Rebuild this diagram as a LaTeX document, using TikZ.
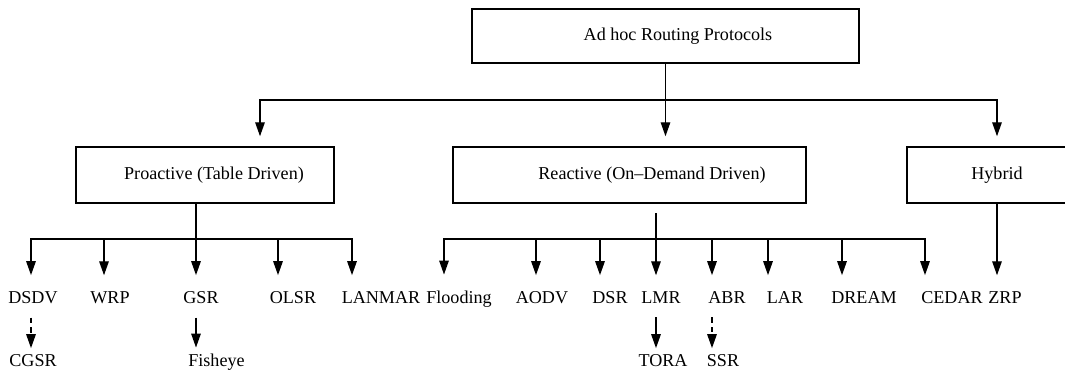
\documentclass[tikz,border=0pt]{standalone}
\usepackage{fontspec}
\setmainfont{Liberation Serif}
\usetikzlibrary{arrows.meta}

\begin{document}
\begin{tikzpicture}[font=\fontsize{10.3}{12}\selectfont,>={Triangle[length=2.8mm,width=1.9mm]}]
    \tikzset{
      box/.style={draw,line width=0.8pt,minimum height=1.12cm,inner sep=2pt},
      leaf/.style={anchor=base,inner sep=0pt},
      ln/.style={line width=0.8pt,line cap=rect},
      ar/.style={->,line width=0.8pt},
      dsh/.style={ar,dash pattern=on 3pt off 2.5pt}}
    \useasboundingbox (0,0) rectangle (21.30,-7.46);
    \node[box,minimum width=7.74cm,minimum height=1.08cm] (top) at (13.31,-0.72) {\raisebox{-0.9mm}{\hspace*{5mm}Ad hoc Routing Protocols}};
    \node[box,minimum width=5.16cm] (pro) at (4.10,-3.50)  {\raisebox{-0.5mm}{\hspace*{3.6mm}Proactive (Table Driven)}};
    \node[box,minimum width=7.06cm] (rea) at (12.59,-3.50) {\hspace*{9mm}Reactive (On--Demand Driven)};
    \node[box,minimum width=3.60cm] (hyb) at (19.94,-3.50) {Hybrid};
    % protocol names
    \foreach \x/\n/\t in {0.66/dsdv/DSDV,2.20/wrp/WRP,4.02/gsr/GSR,5.86/olsr/OLSR,7.62/lanmar/LANMAR,
        9.18/flood/Flooding,10.84/aodv/AODV,12.20/dsr/DSR,13.22/lmr/LMR,14.54/abr/ABR,15.70/lar/LAR,
        17.28/dream/DREAM,19.04/cedar/CEDAR,20.10/zrp/ZRP}
      \node[leaf] (\n) at (\x,-6.07) {\t};
    \foreach \x/\n/\t in {0.66/cgsr/CGSR,4.33/fish/Fisheye,13.26/tora/TORA,14.46/ssr/SSR}
      \node[leaf] (\n) at (\x,-7.34) {\t};
    % first level
    \coordinate (j0) at (top.south |- 0,-2.00);
    \coordinate (jpro) at (5.20,-2.00);
    \draw[ar] (top.south) -- ([yshift=2mm]rea.north -| top.south);
    \draw[ar] (j0) -- (jpro) -- ([yshift=2mm]pro.north -| jpro);
    \draw[ar] (j0) -| ([yshift=2mm]hyb.north);
    % second level
    \foreach \x/\n in {0.62/dsdv,2.08/wrp,3.92/gsr,5.56/olsr,7.04/lanmar,8.88/flood,10.72/aodv,
        12.00/dsr,13.12/lmr,14.24/abr,15.36/lar,16.84/dream,18.50/cedar}
      \coordinate (j\n) at (\x,-4.78);
    \draw[ln] (pro.south -| jgsr) -- (jgsr);
    \draw[ln] ([yshift=-2mm]rea.south -| jlmr) -- (jlmr);
    \draw[ln] (jdsdv) -- (jlanmar);
    \draw[ln] (jflood) -- (jcedar);
    \foreach \n in {dsdv,wrp,gsr,olsr,lanmar,flood,aodv,dsr,lmr,abr,lar,dream,cedar}
      \draw[ar] (j\n) -- ([yshift=3.2mm]\n.north -| j\n);
    \draw[ar] (hyb.south) -- ([yshift=3.2mm]zrp.north -| hyb.south);
    % third level
    \foreach \a/\b/\s in {dsdv/cgsr/dsh,gsr/fish/ar,lmr/tora/ar,abr/ssr/dsh}
      \draw[\s] ([yshift=-2.7mm]\a.south -| j\a) -- ([yshift=1.3mm]\b.north -| j\a);
  \end{tikzpicture}
\end{document}
